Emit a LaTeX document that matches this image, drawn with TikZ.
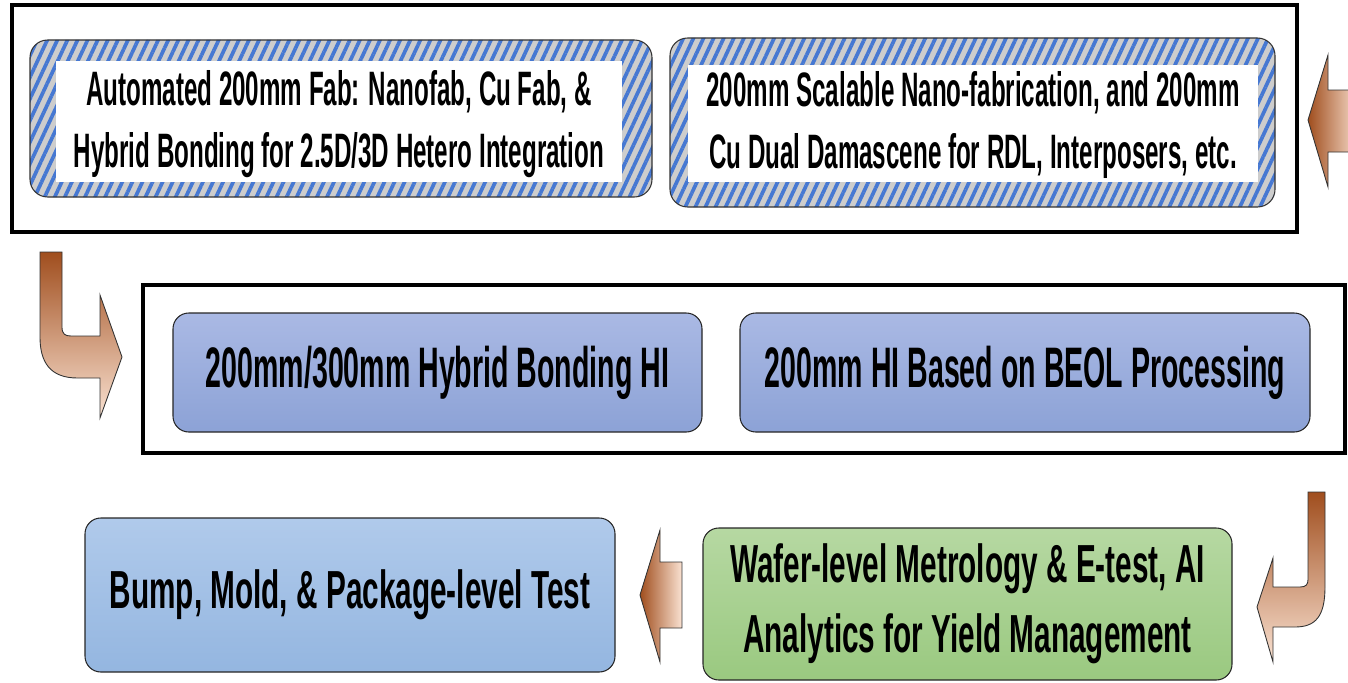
\documentclass[tikz,border=0pt]{standalone}
\usepackage{fontspec}
\setmainfont{Liberation Sans}[FakeStretch=0.5]
\newfontfamily\widerfont{Liberation Sans}[FakeStretch=0.555]
\usetikzlibrary{patterns.meta}

\definecolor{stripeblue}{RGB}{70,120,210}
\definecolor{stripegray}{RGB}{205,205,205}
\definecolor{hitop}{RGB}{170,185,228}
\definecolor{hibot}{RGB}{140,162,214}
\definecolor{pkgtop}{RGB}{176,202,235}
\definecolor{pkgbot}{RGB}{148,182,224}
\definecolor{mettop}{RGB}{182,216,162}
\definecolor{metbot}{RGB}{154,201,128}
\definecolor{arrowdark}{RGB}{160,78,30}
\definecolor{arrowlight}{RGB}{250,226,210}

\begin{document}
\begin{tikzpicture}[
  frame/.style={draw=black,line width=2.3pt},
  hatchbox/.style={rounded corners=10pt,draw=gray!40!black,line width=0.6pt,
    preaction={fill=stripegray},
    pattern={Lines[angle=65,distance=5.2pt,line width=2.1pt]},pattern color=stripeblue},
  whitebox/.style={fill=white,inner sep=0pt,align=center,font=\bfseries\fontsize{27.5}{35}\selectfont},
  stepbox/.style={rounded corners=9pt,draw=gray!30!black,line width=0.6pt,inner sep=0pt,align=center,font=\bfseries},
  blockarrow/.style={draw=gray!40!black,line width=0.5pt}
]
\useasboundingbox (0,0) rectangle (26.96,13.64);

% top row
\draw[frame] (0.24,9.0) rectangle (25.94,13.54);
\node[hatchbox,minimum width=12.44cm,minimum height=3.14cm] (fabbox) at (6.82,11.27) {};
\node[whitebox,minimum width=11.32cm,minimum height=2.42cm,text depth=0.1cm] (fabtext) at (6.78,11.21)
  {Automated\ 200mm\ Fab: Nanofab, Cu Fab, \&\\Hybrid Bonding for 2.5D/3D Hetero Integration};
\node[hatchbox,minimum width=12.1cm,minimum height=3.38cm] (nanobox) at (19.45,11.19) {};
\node[whitebox,minimum width=11.4cm,minimum height=2.34cm,text depth=0.15cm] (nanotext) at (19.46,11.17)
  {200mm\ Scalable Nano-fabrication, and 200mm\\Cu Dual Damascene for RDL, Interposers, etc.};
\draw[blockarrow,left color=arrowdark,right color=arrowlight]
  (26.16,11.24) -- (26.56,12.54) -- (26.56,11.84) -- (27.2,11.84)
  -- (27.2,10.6) -- (26.56,10.6) -- (26.56,9.9) -- cycle;

% middle row
\draw[blockarrow,top color=arrowdark,bottom color=arrowlight]
  (0.8,8.6) -- (1.24,8.6) -- (1.24,7.1) .. controls (1.24,6.96) and (1.3,6.92) .. (1.42,6.92)
  -- (2.0,6.92) -- (2.0,7.74) -- (2.44,6.5) -- (2.0,5.28) -- (2.0,6.08) -- (1.55,6.08)
  .. controls (1.0,6.08) and (0.8,6.4) .. (0.8,6.9) -- cycle;
\draw[frame] (2.86,4.58) rectangle (26.9,7.94);
\node[stepbox,top color=hitop,bottom color=hibot,minimum width=10.58cm,minimum height=2.38cm,
  font=\bfseries\fontsize{32.5}{38}\selectfont] (hybrid) at (8.75,6.19) {200mm/300mm Hybrid Bonding HI};
\node[stepbox,top color=hitop,bottom color=hibot,minimum width=11.4cm,minimum height=2.38cm,
  font=\bfseries\fontsize{32.5}{38}\selectfont] (beol) at (20.5,6.19) {200mm HI Based on BEOL Processing};

% bottom row
\draw[blockarrow,top color=arrowdark,bottom color=arrowlight]
  (26.16,3.8) -- (26.5,3.8) -- (26.5,1.9) .. controls (26.5,1.3) and (26.3,1.1) .. (25.9,1.1)
  -- (25.46,1.1) -- (25.46,0.4) -- (25.14,1.5) -- (25.46,2.48) -- (25.46,1.9) -- (26.0,1.9)
  .. controls (26.12,1.9) and (26.16,1.95) .. (26.16,2.05) -- cycle;
\node[stepbox,top color=mettop,bottom color=metbot,minimum width=10.58cm,minimum height=3.04cm,
  font=\widerfont\bfseries\fontsize{30.5}{40}\selectfont] (metro) at (19.35,1.56)
  {Wafer-level Metrology \& E-test, AI\\Analytics for Yield Management};
\draw[blockarrow,left color=arrowdark,right color=arrowlight]
  (12.8,1.74) -- (13.2,3.04) -- (13.2,2.4) -- (13.64,2.4) -- (13.64,1.08) -- (13.2,1.08)
  -- (13.2,0.4) -- cycle;
\node[stepbox,top color=pkgtop,bottom color=pkgbot,minimum width=10.6cm,minimum height=3.08cm,
  font=\widerfont\bfseries\fontsize{30.5}{36}\selectfont] (bump) at (7.0,1.74) {Bump, Mold, \& Package-level Test};
\end{tikzpicture}
\end{document}
